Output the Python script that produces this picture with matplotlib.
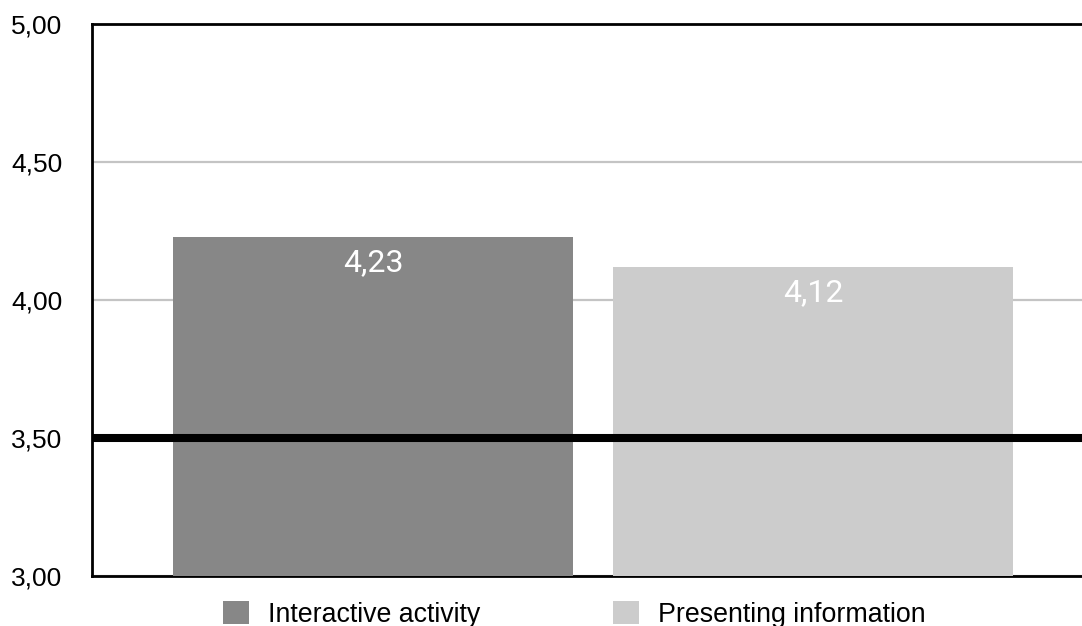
import matplotlib
matplotlib.use("Agg")
import matplotlib.pyplot as plt
from matplotlib.ticker import FuncFormatter

# data
categories = ["Interactive activity", "Presenting information"]
values = [4.23, 4.12]
bar_colors = ["#878787", "#cccccc"]
threshold = 3.5
y_ticks = [3.0, 3.5, 4.0, 4.5, 5.0]

plt.rcParams["font.family"] = ["Liberation Sans", "DejaVu Sans"]

fig = plt.figure(figsize=(10.82, 6.26), dpi=100)
ax = fig.add_axes([92 / 1082, 1 - 576 / 626, 1 - 92 / 1082, (576 - 24) / 626])

x = range(len(categories))
for i in x:
    ax.bar(i, values[i] - 3.0, bottom=3.0, width=0.909, color=bar_colors[i],
           label=categories[i], zorder=2.6)
    ax.annotate(f"{values[i]:.2f}".replace(".", ","), (i, values[i]),
                xytext=(0, -8), textcoords="offset points", ha="center", va="top",
                color="white", fontsize=23, family=["Roboto", "DejaVu Sans"],
                zorder=5)

# black reference line at 3,50
ax.axhline(threshold, color="black", linewidth=5.8, zorder=4)

ax.set_ylim(3.0, 5.0)
ax.set_xlim(-0.6386, 1.611)
ax.set_yticks(y_ticks)
ax.yaxis.set_major_formatter(FuncFormatter(lambda v, p: f"{v:.2f}".replace(".", ",")))
ax.tick_params(axis="y", length=0, pad=21.5, labelsize=19)
ax.set_xticks([])
ax.yaxis.grid(True, color="#c4c4c4", linewidth=1.6)
ax.set_axisbelow(True)

for s in ["left", "top", "bottom"]:
    ax.spines[s].set_linewidth(2)
    ax.spines[s].set_color("black")
ax.spines["right"].set_visible(False)

ax.legend(loc="upper left", bbox_to_anchor=(223 / 1082, 0.040),
          bbox_transform=fig.transFigure, ncol=2, frameon=False,
          fontsize=19.3, handlelength=0.97, handleheight=0.97,
          handletextpad=0.71, columnspacing=4.96, borderpad=0, borderaxespad=0)

fig.savefig("out.png", dpi=100)
